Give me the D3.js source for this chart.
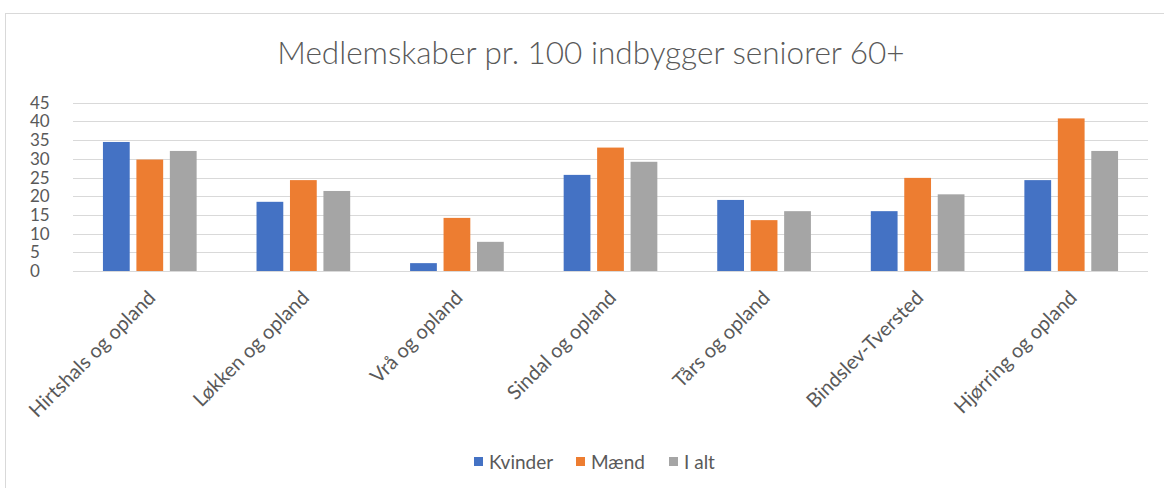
<!DOCTYPE html>
<html>
<head>
<meta charset="utf-8">
<script src="https://cdn.jsdelivr.net/npm/d3@7"></script>
<style>
  body { margin: 0; background: #fff; }
  svg { display: block; font-family: Lato, "Open Sans", sans-serif; }
</style>
</head>
<body>
<div id="chart"></div>
<script>
var categories = ["Hirtshals og opland", "Løkken og opland", "Vrå og opland", "Sindal og opland",
    "Tårs og opland", "Bindslev-Tversted", "Hjørring og opland"];
var seriesNames = ["Kvinder", "Mænd", "I alt"];
var kvinder = [34.5, 18.5, 2.1, 25.7, 19.0, 16.0, 24.3];
var maend = [29.8, 24.3, 14.2, 33.0, 13.6, 24.9, 40.8];
var ialt = [32.1, 21.4, 7.8, 29.2, 16.0, 20.5, 32.1];
var yTicks = [0, 5, 10, 15, 20, 25, 30, 35, 40, 45];
var colors = ["#4472c4", "#ed7d31", "#a5a5a5"];

var W = 1164, H = 488;
var plotL = 73, plotR = 1148, plotT = 102.7, plotB = 271;

var svg = d3.select("#chart").append("svg").attr("width", W).attr("height", H);

// chart frame
svg.append("rect").attr("x", 5.5).attr("y", 13.5).attr("width", 1170).attr("height", 490)
    .attr("fill", "#fff").attr("stroke", "#d9d9d9");

svg.append("text").attr("x", 591).attr("y", 64).attr("text-anchor", "middle")
    .attr("font-size", 31.5).attr("font-weight", 300).attr("fill", "#595959")
    .text("Medlemskaber pr. 100 indbygger seniorer 60+");

var y = d3.scaleLinear().domain([0, 45]).range([plotB, plotT]);
var x0 = d3.scaleBand().domain(categories).range([plotL, plotR]).paddingInner(0.39).paddingOuter(0.195);
var x1 = d3.scaleBand().domain(seriesNames).range([0, x0.bandwidth()]).paddingInner(0.2);

// gridlines
svg.append("g").selectAll("line").data(yTicks).join("line")
    .attr("x1", plotL).attr("x2", plotR)
    .attr("y1", function (d) { return Math.round(y(d)) + 0.5; })
    .attr("y2", function (d) { return Math.round(y(d)) + 0.5; })
    .attr("stroke", "#d9d9d9").attr("stroke-width", 1);

// y labels
svg.append("g").selectAll("text").data(yTicks).join("text")
    .attr("x", 30).attr("y", function (d) { return y(d) + 6; })
    .attr("font-size", 17).attr("fill", "#595959")
    .text(function (d) { return d; });

var rows = categories.map(function (c, i) {
    return { cat: c, vals: [kvinder[i], maend[i], ialt[i]] };
});

var groups = svg.append("g").selectAll("g").data(rows).join("g")
    .attr("transform", function (d) { return "translate(" + x0(d.cat) + ",0)"; });

groups.selectAll("rect").data(function (d) {
    return d.vals.map(function (v, j) { return { name: seriesNames[j], v: v, j: j }; });
}).join("rect")
    .attr("x", function (d) { return x1(d.name); })
    .attr("y", function (d) { return y(d.v); })
    .attr("width", x1.bandwidth())
    .attr("height", function (d) { return y(0) - y(d.v); })
    .attr("fill", function (d) { return colors[d.j]; });

// category labels
svg.append("g").selectAll("text").data(categories).join("text")
    .attr("text-anchor", "end")
    .attr("transform", function (d) {
        var cx = x0(d) + x0.bandwidth() / 2 + 7;
        return "translate(" + cx + ",299) rotate(-45)";
    })
    .attr("font-size", 20).attr("fill", "#595959")
    .text(function (d) { return d; });

// legend
var legX = [474, 576, 669];
var leg = svg.append("g").selectAll("g").data(seriesNames).join("g")
    .attr("transform", function (d, i) { return "translate(" + legX[i] + ",462)"; });
leg.append("rect").attr("x", 0).attr("y", -5).attr("width", 9).attr("height", 9)
    .attr("fill", function (d, i) { return colors[i]; });
leg.append("text").attr("x", 15).attr("y", 6.5).attr("font-size", 19).attr("fill", "#595959")
    .text(function (d) { return d; });
</script>
</body>
</html>
